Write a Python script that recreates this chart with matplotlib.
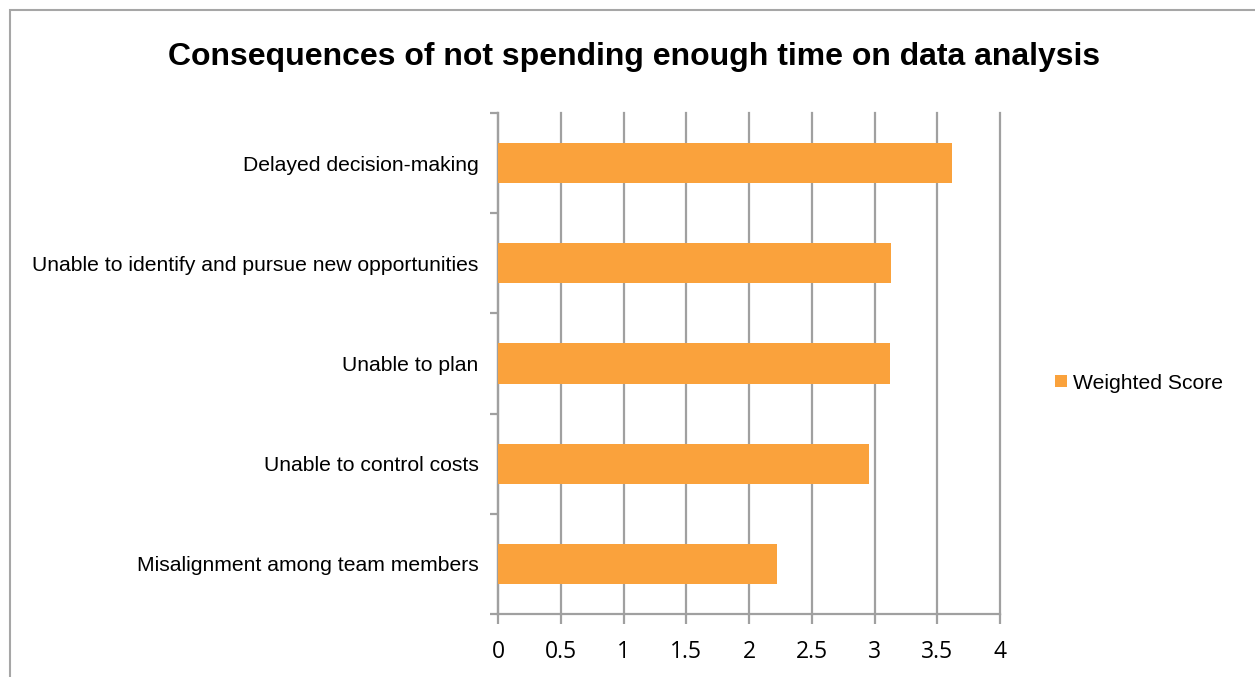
import matplotlib
matplotlib.use("Agg")
import matplotlib.pyplot as plt
from matplotlib.patches import Rectangle

categories = [
    "Misalignment among team members",
    "Unable to control costs",
    "Unable to plan",
    "Unable to identify and pursue new opportunities",
    "Delayed decision-making",
]
weighted_score = [2.22, 2.96, 3.12, 3.13, 3.62]
x_ticks = [0, 0.5, 1, 1.5, 2, 2.5, 3, 3.5, 4]
x_tick_labels = ["0", "0.5", "1", "1.5", "2", "2.5", "3", "3.5", "4"]
series_name = "Weighted Score"
title = "Consequences of not spending enough time on data analysis"

W, H = 1255, 677
fig = plt.figure(figsize=(W / 100, H / 100), dpi=100)
fig.patch.set_facecolor("white")

# outer chart frame
fig.patches.append(Rectangle((10 / W, -0.1), 1.2, 1.1 - 10 / H,
                             transform=fig.transFigure, fill=False,
                             edgecolor="#a6a6a6", linewidth=1.5))

ax = fig.add_axes([498 / W, 1 - 614 / H, (1000 - 498) / W, (614 - 113) / H])
bar_color = "#FAA23C"
ax.barh(range(len(categories)), weighted_score, height=0.4, color=bar_color,
        label=series_name, zorder=3)

ax.set_xlim(0, 4)
ax.set_ylim(-0.5, len(categories) - 0.5)
ax.set_xticks(x_ticks)
ax.set_xticklabels(x_tick_labels, fontsize=16.5, family="Open Sans")
ax.set_yticks(range(len(categories)))
ax.set_yticklabels(categories, fontsize=15.25, family="Liberation Sans")
ax.set_yticks([i - 0.5 for i in range(len(categories) + 1)], minor=True)

grid_c = "#a0a0a0"
ax.grid(axis="x", color=grid_c, linewidth=1.6, zorder=0)
for gl in ax.get_xgridlines():
    gl.set_clip_on(False)
for s in ["top", "right"]:
    ax.spines[s].set_visible(False)
for s in ["left", "bottom"]:
    ax.spines[s].set_color(grid_c)
    ax.spines[s].set_linewidth(1.6)

ax.tick_params(axis="y", which="major", length=0, pad=14)
ax.tick_params(axis="y", which="minor", length=6, color=grid_c, width=1.6)
ax.tick_params(axis="x", length=7, color=grid_c, width=1.6, pad=12)

fig.text(0.5 * (168 + 1100) / W, 1 - 57 / H, title, ha="center", va="center",
         fontsize=23, fontweight="bold", family="Liberation Sans")

fig.legend(loc="center left", bbox_to_anchor=(1036 / W, 1 - 383 / H),
           frameon=False, handlelength=0.55, handleheight=0.55,
           handletextpad=0.3, prop={"family": "Liberation Sans", "size": 15.2})

fig.savefig("out.png", dpi=100, facecolor="white")
